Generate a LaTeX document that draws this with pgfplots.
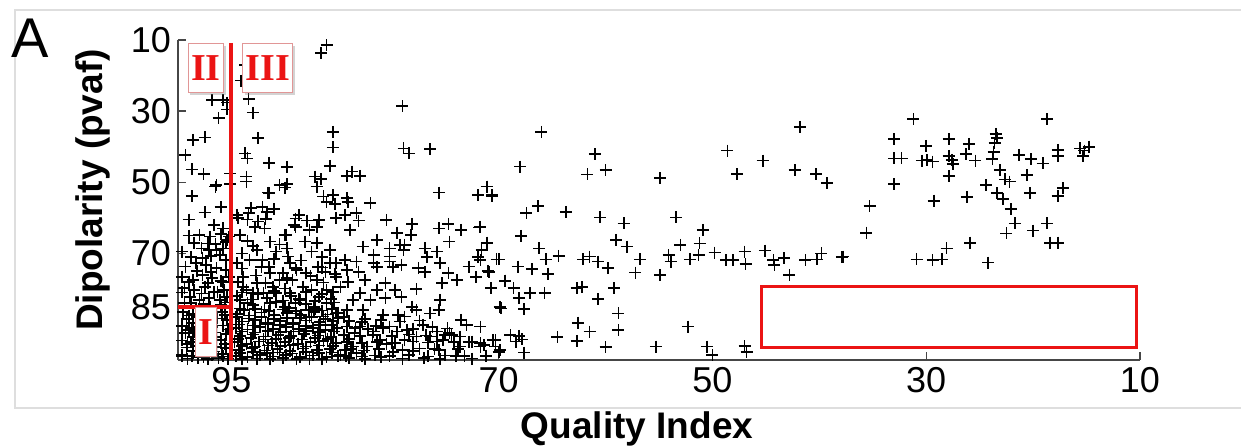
\documentclass[border=0pt]{standalone}
\usepackage{pgfplots}
\pgfplotsset{compat=1.18}
\usepackage{fontspec}
\setmainfont{Liberation Sans}
\newfontfamily\romfont{Liberation Serif}
\usetikzlibrary{shadows}
\definecolor{redline}{RGB}{235,20,20}
\definecolor{boxedge}{RGB}{225,150,150}
\definecolor{framegray}{RGB}{222,222,222}
\definecolor{axgray}{RGB}{70,70,70}
\tikzset{numbox/.style={draw=boxedge, fill=white, line width=0.5pt, inner xsep=1.5pt, inner ysep=0pt, minimum height=24.5pt, text=redline, font=\romfont\bfseries\fontsize{19}{20}\selectfont, drop shadow={shadow xshift=1pt, shadow yshift=-1pt, opacity=0.35}}}
\begin{document}
\begin{tikzpicture}
\useasboundingbox (-89pt,-43pt) rectangle (531.5pt,180pt);
\draw[framegray, line width=1pt] (531.5pt,175pt) -- (-81.5pt,175pt) -- (-81.5pt,-24pt) -- (531.5pt,-24pt);
\begin{axis}[
  at={(0pt,0pt)}, anchor=south west,
  scale only axis, width=481pt, height=160pt,
  xmin=10, xmax=100, ymin=10, ymax=100,
  x dir=reverse, y dir=reverse,
  axis x line*=bottom, axis y line*=left,
  xtick={95,70,50,30,10}, ytick={10,30,50,70,85},
  tick align=inside, major tick length=4pt,
  axis line style={color=axgray, line width=0.7pt, -},
  tick style={color=axgray, line width=0.7pt},
  /pgf/number format/assume math mode=true,
  tick label style={font=\fontsize{18}{20}\selectfont},
  clip=false,
]
\addplot[only marks, mark=+, mark size=3pt, mark options={line width=0.85pt}, color=black] table {
x y
86.1 11.4
86.6 13.7
94.1 21.4
93.7 17.0
96.8 26.9
95.8 26.9
95.4 27.6
95.4 29.5
96.2 32.0
93.4 26.6
93.0 30.4
79.0 28.6
98.6 38.1
97.5 37.4
92.5 37.6
85.5 35.8
85.5 40.2
85.8 45.4
78.9 40.5
78.4 41.9
76.4 40.7
99.3 42.3
93.7 41.9
93.5 43.3
91.5 44.5
89.8 45.8
98.7 46.4
97.6 47.7
95.1 47.5
93.6 48.4
96.4 50.8
95.1 50.5
90.5 50.8
89.8 50.5
87.2 48.4
86.6 49.1
87.0 51.2
84.2 48.2
83.7 47.0
83.0 48.2
91.6 52.9
86.4 54.0
85.5 53.6
84.2 54.5
98.7 53.9
96.5 51.2
91.5 53.1
84.1 55.5
75.6 52.9
71.9 53.6
71.1 51.2
70.6 53.6
94.4 60.0
93.2 57.3
92.1 56.9
91.0 57.6
93.5 60.5
91.8 60.3
89.0 60.2
87.9 60.8
86.8 60.7
85.2 60.0
93.6 49.8
90.0 51.5
93.4 58.7
91.7 58.3
92.5 61.0
94.5 59.2
92.8 62.5
91.9 63.0
94.2 64.8
90.0 64.8
91.4 66.7
92.6 69.1
90.8 69.5
89.8 68.6
88.7 59.2
89.1 62.0
87.7 63.4
87.0 62.5
88.1 66.7
87.5 69.5
89.7 70.9
84.4 59.2
86.1 55.5
85.3 56.2
89.9 64.8
89.0 62.5
92.1 71.9
90.2 75.6
89.3 77.5
86.2 75.2
85.2 72.8
93.9 79.4
93.0 81.2
90.8 81.2
89.0 84.0
94.5 72.8
93.3 71.9
92.2 73.8
91.4 75.6
90.5 77.5
93.9 76.6
92.6 78.4
91.1 79.4
89.8 77.0
88.9 74.7
88.0 75.6
86.9 73.8
85.8 72.8
85.2 76.6
87.0 77.5
88.3 79.4
89.5 81.2
86.1 80.3
84.8 79.4
92.0 81.2
93.6 80.3
94.2 83.1
93.0 84.5
91.4 84.0
90.0 85.0
88.6 83.1
87.3 85.0
86.1 84.0
85.2 86.9
88.9 86.9
87.7 87.8
86.4 87.8
96.6 62.0
95.8 63.0
95.4 66.2
95.2 65.3
98.0 64.8
97.2 67.2
97.8 68.6
97.1 69.1
99.6 69.5
96.4 69.1
96.1 70.5
95.8 68.6
95.5 71.9
99.3 73.7
98.3 72.8
97.4 73.3
96.4 74.2
95.5 74.7
99.6 76.6
98.6 77.5
97.7 76.1
96.8 77.0
95.8 78.0
95.2 76.6
99.4 79.8
98.5 80.3
97.5 79.4
96.6 80.8
95.7 80.3
98.9 82.2
98.0 83.1
97.1 82.6
96.1 83.1
95.4 82.2
99.4 84.0
97.0 85.0
96.0 84.5
98.3 85.3
99.0 60.5
97.5 58.5
96.0 57.0
99.5 86.5
98.6 87.0
97.7 86.2
96.8 86.8
95.9 86.4
99.2 88.5
98.2 88.0
97.3 88.9
96.3 88.3
95.4 88.7
99.6 90.5
98.7 90.9
97.8 90.2
96.8 90.7
95.8 90.3
99.3 92.5
98.4 92.1
97.4 92.8
96.5 92.3
95.5 92.7
99.6 94.5
98.8 94.9
97.9 94.2
96.9 94.7
96.0 94.3
99.2 96.5
98.3 96.1
97.4 96.8
96.4 96.3
95.5 96.7
99.6 98.5
98.7 98.9
97.8 98.2
96.8 98.7
95.9 98.3
99.1 99.6
98.1 99.3
97.2 99.7
96.2 99.4
95.3 99.6
94.5 87.0
93.3 87.5
92.2 86.6
91.0 87.3
89.8 86.8
88.5 87.4
87.3 86.5
86.0 87.2
85.0 86.7
94.0 89.2
92.8 88.8
91.6 89.5
90.4 89.0
89.2 89.6
88.0 88.9
86.7 89.4
85.5 89.0
94.6 91.0
93.5 91.4
92.3 90.8
91.1 91.3
89.9 90.7
88.7 91.2
87.4 90.9
86.2 91.5
85.1 91.0
94.2 93.2
93.0 92.8
91.8 93.4
90.6 92.9
89.4 93.3
88.2 92.7
86.9 93.1
85.7 93.5
94.7 95.0
93.6 95.4
92.4 94.8
91.2 95.3
90.0 94.9
88.8 95.4
87.6 95.0
86.4 94.7
85.2 95.2
94.3 97.1
93.1 96.7
91.9 97.3
90.7 96.9
89.5 97.4
88.3 96.8
87.0 97.2
85.8 96.9
94.6 98.8
93.5 99.1
92.3 98.6
91.1 99.0
89.9 98.5
88.6 99.1
87.4 98.7
86.1 99.2
85.0 98.9
94.0 99.8
92.6 99.6
91.4 99.8
90.2 99.5
88.9 99.8
87.7 99.6
86.5 99.8
94.0 74.3
91.5 73.9
89.0 74.2
86.5 74.0
92.7 76.2
87.6 76.4
85.3 75.8
94.4 78.1
91.8 78.3
86.4 78.2
90.0 79.9
87.5 80.3
85.5 80.8
94.5 82.0
89.4 82.0
86.8 82.3
93.5 84.0
90.8 83.6
88.0 84.2
85.4 83.8
94.2 85.5
91.9 85.8
89.6 85.3
87.2 85.7
94.0 81.0
92.5 81.5
91.0 80.6
89.5 81.2
88.0 80.8
86.5 81.4
93.2 83.0
91.7 82.6
90.2 83.3
88.7 82.8
87.2 83.4
85.7 82.9
93.8 86.0
92.8 85.6
91.5 86.2
90.2 85.8
89.0 86.3
87.8 85.9
86.5 86.1
85.6 85.7
94.6 88.0
93.4 88.3
92.2 87.9
91.0 88.4
89.8 88.1
88.6 88.2
87.5 87.9
86.2 88.5
85.0 88.1
94.3 90.0
93.0 90.3
91.8 89.9
90.5 90.2
89.3 89.8
88.0 90.4
86.8 90.1
85.6 90.2
94.0 92.0
92.8 92.3
91.6 91.9
90.4 92.2
89.2 92.0
88.0 91.8
86.7 92.2
85.4 92.0
94.4 94.0
93.2 93.8
92.0 94.2
90.8 94.0
89.6 93.9
88.4 94.2
87.2 93.8
86.0 94.0
94.0 96.0
92.8 96.2
91.6 95.9
90.4 96.1
89.2 95.8
88.0 96.2
86.8 95.9
85.5 96.1
94.2 98.0
93.0 97.8
91.7 98.1
90.5 97.9
89.3 98.2
88.0 97.8
86.8 98.1
85.6 97.9
84.0 89.0
82.8 89.3
81.0 88.8
79.2 89.2
77.4 88.9
83.4 91.0
82.2 91.3
80.8 90.9
78.0 91.2
76.2 90.8
74.8 91.1
84.5 93.0
83.0 93.3
81.8 92.9
80.0 93.2
78.4 92.8
76.8 93.1
75.0 92.9
84.2 95.0
82.8 95.3
81.4 94.9
80.0 95.2
78.0 94.8
76.6 95.1
74.2 95.0
72.8 94.9
83.8 97.0
82.6 97.3
81.2 96.9
79.0 97.1
77.4 96.8
75.6 97.2
73.8 96.9
84.3 98.8
82.8 99.0
81.6 98.7
80.2 98.9
78.4 98.6
76.6 99.0
75.0 98.7
73.2 98.9
71.2 98.8
99.0 65.0
97.0 65.3
96.0 64.6
98.5 67.0
96.5 67.3
95.5 66.8
98.8 71.0
97.7 71.3
96.9 70.8
98.2 75.0
96.9 75.3
99.0 78.0
97.2 78.3
96.0 77.8
99.6 81.0
97.8 81.3
96.3 80.8
98.8 84.0
97.6 84.3
95.6 83.8
99.0 87.5
97.2 87.6
95.6 87.4
98.6 89.5
96.8 89.6
99.0 91.5
97.1 91.6
95.3 91.4
98.6 93.5
96.6 93.6
99.1 95.5
97.3 95.6
95.6 95.4
98.6 97.5
96.6 97.6
99.6 99.0
97.6 99.1
95.8 99.0
93.5 66.5
90.5 67.5
88.5 72.0
86.5 71.0
93.0 68.0
91.0 71.5
87.0 67.0
94.0 70.0
85.8 69.0
89.5 72.8
83.1 60.8
78.1 61.7
79.5 64.2
78.2 64.8
75.6 63.0
74.7 61.7
73.5 63.4
71.8 62.7
74.6 66.7
80.2 68.6
79.2 67.6
78.8 67.6
76.9 68.6
75.8 69.5
76.7 71.1
71.1 67.0
70.2 71.7
71.9 71.1
72.8 73.7
71.0 74.9
72.1 76.6
73.9 77.5
74.7 75.6
75.5 72.8
75.3 78.4
77.5 74.2
76.9 75.2
69.4 77.7
70.7 79.8
69.9 85.0
77.7 80.1
84.4 71.9
83.3 72.3
81.4 73.8
80.2 72.3
79.9 73.8
79.1 73.3
84.2 74.7
83.1 75.2
81.7 70.5
84.1 78.0
82.5 77.5
80.6 78.4
79.7 80.3
83.0 81.2
81.4 80.3
79.1 82.2
78.1 85.0
80.6 82.6
82.0 83.1
83.6 83.1
82.7 85.9
84.2 85.9
80.8 87.3
79.4 87.3
78.8 87.8
77.7 85.9
76.4 86.9
75.6 85.9
75.5 83.1
77.1 90.1
75.8 92.0
74.4 93.0
73.5 88.7
73.0 90.1
71.7 90.6
72.5 94.8
71.7 95.3
70.3 94.4
69.9 97.2
73.6 93.4
75.2 94.4
76.4 93.4
77.7 93.4
78.8 94.4
79.7 95.3
81.1 94.4
82.3 96.2
83.6 96.2
84.4 97.2
81.7 92.0
80.2 90.6
78.6 91.6
83.0 90.6
84.2 90.6
79.9 97.7
84.8 98.6
83.3 98.1
84.0 99.5
82.5 99.7
81.0 99.2
79.0 99.6
77.0 99.4
75.5 99.7
74.0 98.8
72.5 99.6
76.0 97.0
78.0 97.5
80.5 95.5
75.8 94.8
74.6 92.5
73.6 96.2
71.4 95.8
84.5 88.0
83.5 92.5
82.5 88.5
81.5 90.5
79.5 92.0
84.0 94.0
83.3 58.7
82.0 55.9
83.9 63.4
82.7 68.1
81.4 66.2
80.5 60.6
81.7 72.8
80.2 70.9
78.9 69.1
66.0 35.8
68.0 45.6
61.0 42.1
61.7 47.8
60.0 46.6
54.9 48.9
48.6 41.1
47.7 47.7
45.3 43.9
41.8 34.4
42.3 46.6
40.3 47.7
39.3 50.3
71.1 51.2
70.6 53.9
66.3 56.7
67.4 58.7
63.7 58.3
60.5 59.9
58.3 61.6
53.4 59.9
50.9 63.4
51.2 67.2
67.9 65.1
59.0 66.2
58.0 68.1
71.7 62.5
71.1 67.2
71.6 69.1
71.7 71.9
70.0 71.7
70.9 75.2
68.2 73.7
66.9 74.5
65.4 75.8
66.2 68.6
65.6 71.7
64.4 70.7
62.1 71.7
61.5 70.9
60.7 72.3
59.8 74.2
56.8 71.7
57.2 75.4
54.9 76.1
54.1 70.5
53.9 72.3
53.0 67.6
52.1 71.7
51.3 70.5
49.8 69.8
48.7 71.9
48.1 71.9
47.0 69.5
46.9 73.0
45.1 69.2
44.3 71.9
44.2 73.3
43.3 71.4
42.8 76.1
41.3 71.9
40.2 71.7
39.8 70.0
37.9 71.1
70.7 79.8
69.4 77.7
68.6 79.8
68.1 82.6
67.1 81.2
65.7 81.2
69.8 85.5
67.6 85.7
62.7 79.8
62.2 79.5
60.7 82.9
59.2 79.8
58.8 86.9
58.8 91.6
62.6 89.5
61.5 92.0
62.7 94.6
64.5 93.6
68.9 93.0
68.1 93.2
67.8 94.2
68.4 94.8
70.5 94.4
70.3 96.2
70.0 97.7
67.6 97.9
71.7 96.2
60.0 96.4
55.3 96.2
52.3 90.6
50.5 96.2
50.0 98.6
47.0 96.1
46.8 97.7
31.2 32.3
18.7 32.3
33.0 37.9
30.0 39.8
27.9 37.9
26.0 39.2
23.5 36.4
23.4 37.6
23.6 39.0
23.7 41.4
23.8 43.5
33.0 43.3
32.3 43.3
30.4 43.9
29.9 43.7
29.4 44.2
27.9 42.6
27.6 43.7
27.5 44.9
26.3 42.1
25.4 43.9
21.3 42.3
20.2 43.5
19.1 44.7
17.7 40.9
17.7 42.6
15.6 40.5
15.2 41.1
14.8 40.0
15.3 42.6
27.9 48.2
23.1 46.6
22.6 49.2
22.2 49.8
20.6 48.0
33.0 50.5
24.4 50.8
23.4 53.1
22.8 54.8
22.1 57.6
20.3 53.1
17.7 53.9
17.2 51.7
26.2 54.2
29.3 55.2
35.3 56.7
35.6 64.2
21.7 61.6
22.5 64.4
20.0 63.6
18.7 61.6
18.4 67.0
17.7 67.0
25.9 67.0
28.1 68.6
30.9 71.7
29.4 71.9
28.5 71.7
24.2 72.6
37.8 70.9
};
\coordinate (vt) at (axis cs:95,10.8);
\coordinate (vb) at (axis cs:95,100);
\coordinate (hl) at (axis cs:100,85);
\coordinate (r1) at (axis cs:45.4,79.2);
\coordinate (r2) at (axis cs:10.3,96.6);
\coordinate (pII) at (axis cs:97.4,17.9);
\coordinate (pIII) at (axis cs:91.6,17.9);
\coordinate (pI) at (axis cs:97.4,92.0);
\end{axis}
\draw[redline, line width=2pt] (vt) -- (vb);
\draw[redline, line width=2pt] (hl) -- (hl -| vb);
\draw[redline, line width=1.5pt] (r1) rectangle (r2);
\node[numbox, minimum width=17.5pt] at (pII) {II};
\node[numbox, minimum width=23.5pt] at (pIII) {III};
\node[numbox, minimum width=10.5pt] at (pI) {I};
\node at (-74pt,161pt) {\fontsize{28}{30}\selectfont A};
\node[rotate=90] at (-42.5pt,85pt) {\fontsize{18.5}{20}\selectfont\bfseries Dipolarity (pvaf)};
\node at (229.5pt,-34.5pt) {\fontsize{18.5}{20}\selectfont\bfseries Quality Index};
\end{tikzpicture}
\end{document}
